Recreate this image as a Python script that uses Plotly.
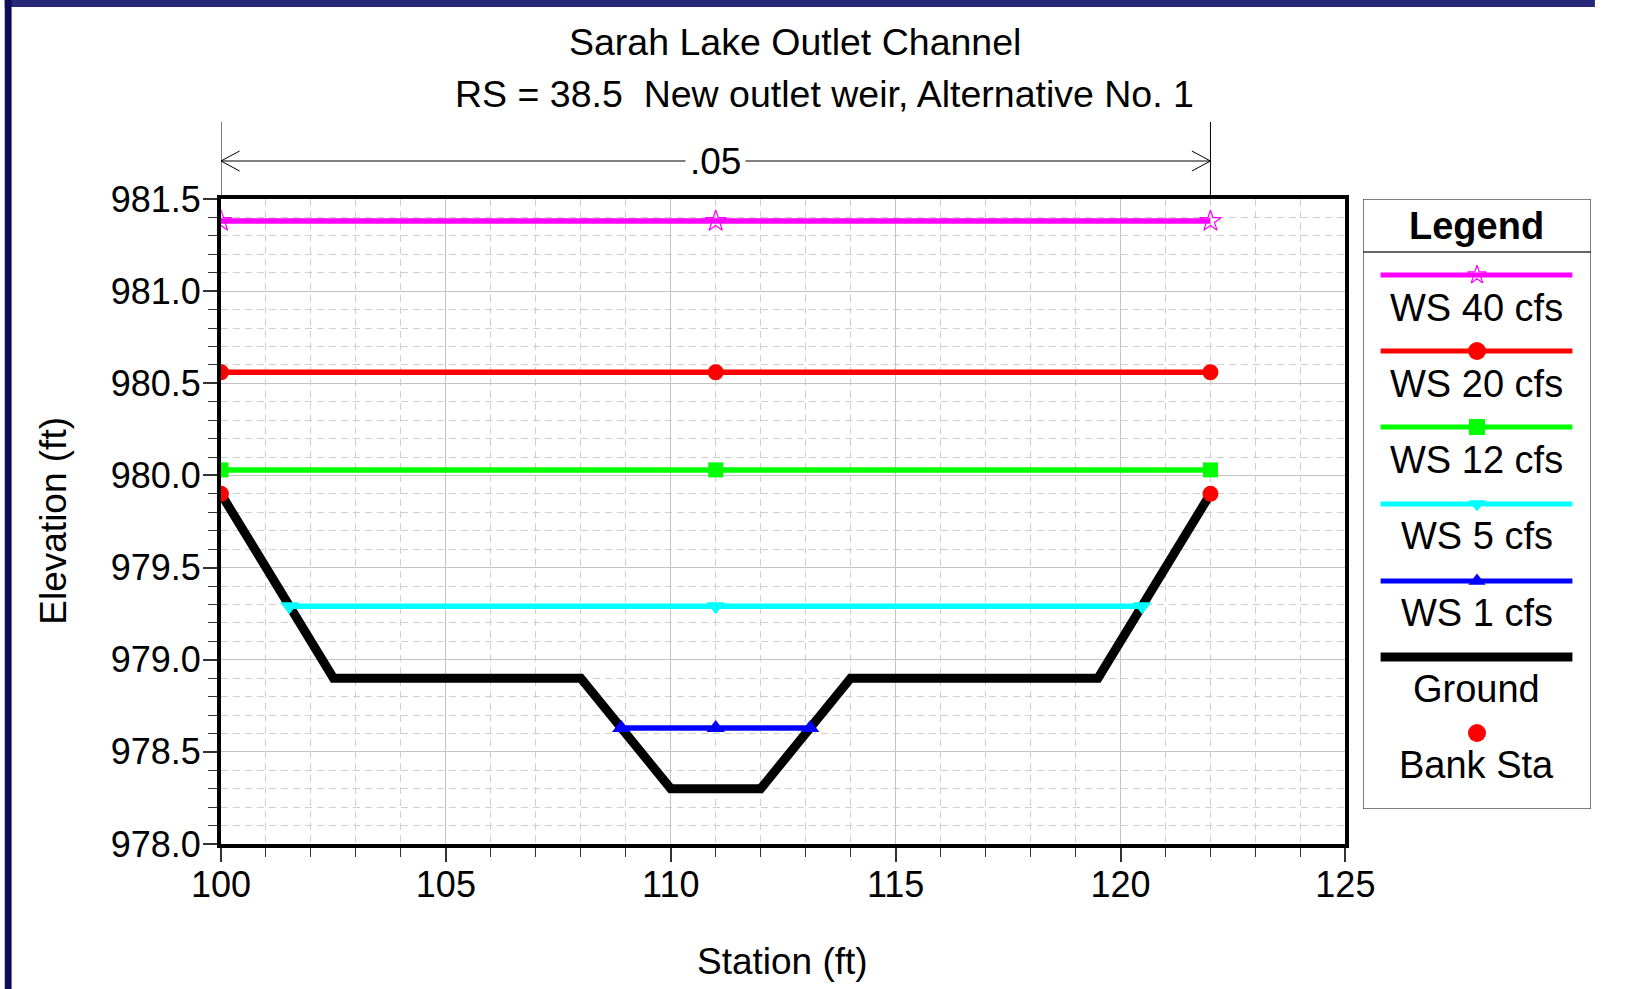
import plotly.graph_objects as go

# ---------------- data ----------------
ground_x = [100, 102.5, 108, 110, 112, 114, 119.5, 122]
ground_y = [979.9, 978.9, 978.9, 978.3, 978.3, 978.9, 978.9, 979.9]

bank_x = [100, 122]
bank_y = [979.9, 979.9]

ws40_x = [100, 111, 122]
ws40_y = [981.38, 981.38, 981.38]
ws20_x = [100, 111, 122]
ws20_y = [980.56, 980.56, 980.56]
ws12_x = [100, 111, 122]
ws12_y = [980.03, 980.03, 980.03]
ws5_x = [101.52, 111, 120.48]
ws5_y = [979.29, 979.29, 979.29]
ws1_x = [108.9, 111, 113.1]
ws1_y = [978.63, 978.63, 978.63]

n_value = ".05"
legend_labels = ["WS 40 cfs", "WS 20 cfs", "WS 12 cfs", "WS 5 cfs", "WS 1 cfs", "Ground", "Bank Sta"]

# ---------------- layout geometry (pixels) ----------------
W, H = 1625, 989
ML, MR, MT, MB = 221, 4, 199, 145
PW = W - ML - MR
PH = H - MT - MB
PLOT_RIGHT = 1370


def px(x):
    return (x - ML) / PW


def py(y):
    return (H - MB - y) / PH


FONT = "Liberation Sans, Arial, Helvetica, sans-serif"

fig = go.Figure()

# ground and bank stations
fig.add_trace(go.Scatter(x=ground_x, y=ground_y, mode="lines",
                         line=dict(color="black", width=9), name="Ground"))
fig.add_trace(go.Scatter(x=bank_x, y=bank_y, mode="markers",
                         marker=dict(color="#ff0000", size=16, symbol="circle"), name="Bank Sta"))

series = [
    (ws40_x, ws40_y, "#ff00ff", "star-open", 16, "WS 40 cfs"),
    (ws20_x, ws20_y, "#ff0000", "circle", 16, "WS 20 cfs"),
    (ws12_x, ws12_y, "#00ff00", "square", 15, "WS 12 cfs"),
    (ws5_x, ws5_y, "#00ffff", "triangle-down", 16, "WS 5 cfs"),
    (ws1_x, ws1_y, "#0000ff", "triangle-up", 16, "WS 1 cfs"),
]
for xs, ys, col, sym, sz, nm in series:
    mk = dict(color=col, size=sz, symbol=sym)
    if sym == "star-open":
        mk["line"] = dict(color=col, width=1.2)
    fig.add_trace(go.Scatter(x=xs, y=ys, mode="lines+markers",
                             line=dict(color=col, width=5.5), marker=mk, name=nm))

# ---------------- custom legend on its own hidden axes ----------------
LX0, LX1, LY0, LY1 = 1388, 1621, 199, 809
LCX = (LX0 + LX1) / 2
line_y = [275, 351, 427, 504, 581, 657, 733]
text_y = [308, 384, 460, 536, 613, 689, 765]
leg_style = [
    ("#ff00ff", "star-open", 14, 5),
    ("#ff0000", "circle", 18, 5),
    ("#00ff00", "square", 16, 5),
    ("#00ffff", "triangle-down", 15, 5),
    ("#0000ff", "triangle-up", 15, 5),
    ("black", None, 0, 9),
    ("#ff0000", "circle", 18, 0),
]
shapes = []
annotations = []

shapes.append(dict(type="rect", xref="x2", yref="y2", x0=LX0, x1=LX1, y0=LY0, y1=LY1,
                   line=dict(color="#555555", width=1.5), fillcolor="white", layer="below"))
shapes.append(dict(type="line", xref="x2", yref="y2", x0=LX0, x1=LX1, y0=252, y1=252,
                   line=dict(color="#333333", width=1.5)))
annotations.append(dict(text="<b>Legend</b>", xref="x2", yref="y2", x=LCX, y=226,
                        showarrow=False, font=dict(family=FONT, size=38, color="black"),
                        xanchor="center", yanchor="middle"))

for lab, ly, ty, (col, sym, sz, lw) in zip(legend_labels, line_y, text_y, leg_style):
    if lw > 0:
        shapes.append(dict(type="line", xref="x2", yref="y2", x0=1406, x1=1602, y0=ly, y1=ly,
                           line=dict(color=col, width=lw)))
    if sym is not None:
        mk = dict(color=col, size=sz, symbol=sym)
        if sym == "star-open":
            mk["line"] = dict(color=col, width=1.2)
        fig.add_trace(go.Scatter(x=[LCX], y=[ly], mode="markers", marker=mk,
                                 xaxis="x2", yaxis="y2", hoverinfo="skip", showlegend=False))
    annotations.append(dict(text=lab, xref="x2", yref="y2", x=LCX, y=ty, showarrow=False,
                            font=dict(family=FONT, size=38, color="black"),
                            xanchor="center", yanchor="middle"))

# ---------------- n-value bracket above plot ----------------
xl, xr = ground_x[0], ground_x[-1]
top_tick = py(122)
arr_y = py(161)
ah_dx = 19 / ((PLOT_RIGHT - ML) / 25.0)
ah_dy = 10 / PH
for xv in (xl, xr):
    shapes.append(dict(type="line", xref="x", yref="paper", x0=xv, x1=xv, y0=1.0, y1=top_tick,
                       line=dict(color="black", width=1)))
shapes.append(dict(type="line", xref="x", yref="paper", x0=xl, x1=xr, y0=arr_y, y1=arr_y,
                   line=dict(color="black", width=1)))
shapes.append(dict(type="path", xref="x", yref="paper",
                   path=f"M {xl + ah_dx},{arr_y + ah_dy} L {xl},{arr_y} L {xl + ah_dx},{arr_y - ah_dy}",
                   line=dict(color="black", width=1)))
shapes.append(dict(type="path", xref="x", yref="paper",
                   path=f"M {xr - ah_dx},{arr_y + ah_dy} L {xr},{arr_y} L {xr - ah_dx},{arr_y - ah_dy}",
                   line=dict(color="black", width=1)))
annotations.append(dict(text=n_value, xref="x", yref="paper", x=(xl + xr) / 2, y=arr_y, showarrow=False,
                        font=dict(family=FONT, size=37, color="black"), bgcolor="white",
                        borderpad=4, xanchor="center", yanchor="middle"))

# ---------------- frame (dark navy bands top and left) ----------------
shapes.append(dict(type="rect", xref="paper", yref="paper", x0=px(0), x1=px(W), y0=py(7), y1=py(0),
                   line=dict(width=0), fillcolor="#28287a", layer="below"))
shapes.append(dict(type="rect", xref="paper", yref="paper", x0=px(0), x1=px(7), y0=py(H), y1=py(0),
                   line=dict(width=0), fillcolor="#0d0d55", layer="below"))

# ---------------- titles ----------------
annotations.append(dict(text="Sarah Lake Outlet Channel", xref="paper", yref="paper",
                        x=px(808), y=py(42), showarrow=False, xanchor="center", yanchor="middle",
                        font=dict(family=FONT, size=37.5, color="black")))
annotations.append(dict(text="RS = 38.5  New outlet weir, Alternative No. 1", xref="paper", yref="paper",
                        x=px(838), y=py(94), showarrow=False, xanchor="center", yanchor="middle",
                        font=dict(family=FONT, size=37.5, color="black")))
annotations.append(dict(text="Station (ft)", xref="paper", yref="paper",
                        x=px(795), y=py(961), showarrow=False, xanchor="center", yanchor="middle",
                        font=dict(family=FONT, size=37, color="black")))
annotations.append(dict(text="Elevation (ft)", xref="paper", yref="paper", textangle=-90,
                        x=px(49), y=py(521), showarrow=False, xanchor="center", yanchor="middle",
                        font=dict(family=FONT, size=37, color="black")))

axis_common = dict(
    showline=True, linecolor="black", linewidth=4, mirror=True,
    ticks="outside", ticklen=14, tickwidth=1.5, tickcolor="#333333",
    showgrid=True, gridcolor="#c4c4c4", gridwidth=1,
    tickfont=dict(family=FONT, size=36, color="black"),
    zeroline=False,
)

fig.update_layout(
    width=W, height=H, autosize=False,
    margin=dict(l=ML, r=MR, t=MT, b=MB),
    paper_bgcolor="white", plot_bgcolor="white",
    showlegend=False,
    xaxis=dict(domain=[0, px(PLOT_RIGHT)], range=[100, 125], dtick=5, tick0=100,
               ticklabelstandoff=-8,
               minor=dict(dtick=1, ticks="outside", ticklen=9, tickwidth=1.2, tickcolor="#333333",
                          showgrid=True, gridcolor="#cfcfcf", gridwidth=1, griddash="7px,5px"),
               **axis_common),
    yaxis=dict(range=[978, 981.5], dtick=0.5, tick0=978, tickformat=".1f",
               ticklabelstandoff=-5,
               minor=dict(dtick=0.1, ticks="outside", ticklen=9, tickwidth=1.2, tickcolor="#333333",
                          showgrid=True, gridcolor="#cfcfcf", gridwidth=1, griddash="7px,5px"),
               **axis_common),
    xaxis2=dict(domain=[px(LX0), px(LX1)], range=[LX0, LX1], visible=False, anchor="y2", fixedrange=True),
    yaxis2=dict(domain=[py(LY1), py(LY0)], range=[LY1, LY0], visible=False, anchor="x2", fixedrange=True),
    shapes=shapes,
    annotations=annotations,
)

post = ("document.body.style.margin='0px';document.body.style.overflow='hidden';"
        "document.documentElement.style.overflow='hidden';"
        "var gd=document.getElementById('{plot_id}');"
        "Plotly.relayout(gd,{width:1625,height:989});")

fig.write_html("out.html", config={"responsive": False, "displayModeBar": False}, post_script=post)
